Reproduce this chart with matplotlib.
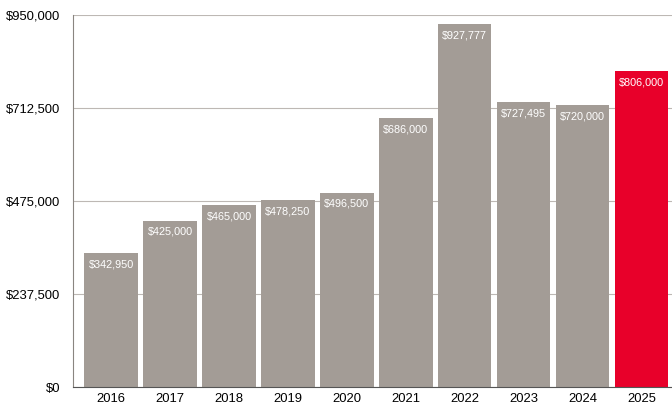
import matplotlib.pyplot as plt
from matplotlib.ticker import FuncFormatter

years = ['2016', '2017', '2018', '2019', '2020', '2021', '2022', '2023', '2024', '2025']
prices = [342950, 425000, 465000, 478250, 496500, 686000, 927777, 727495, 720000, 806000]
labels = ['$342,950', '$425,000', '$465,000', '$478,250', '$496,500',
          '$686,000', '$927,777', '$727,495', '$720,000', '$806,000']
yticks = [0, 237500, 475000, 712500, 950000]

plt.rcParams['font.family'] = ['Liberation Sans', 'DejaVu Sans']

fig = plt.figure(figsize=(6.72, 4.07), dpi=100)
ax = fig.add_axes([0.1086, 0.049, 0.8914, 0.914])

colors = ['#a39c96'] * (len(years) - 1) + ['#e8002a']
x = range(len(years))
bars = ax.bar(x, prices, width=0.91, color=colors, zorder=2)

for b, lab in zip(bars, labels):
    ax.annotate(lab, (b.get_x() + b.get_width() / 2, b.get_height()),
                xytext=(0, -4.5), textcoords='offset points',
                ha='center', va='top', color='white', fontsize=7.8, zorder=3)

ax.set_xlim(-0.65, 9.52)
ax.set_ylim(0, 950000)
ax.set_yticks(yticks)
ax.yaxis.set_major_formatter(FuncFormatter(lambda v, p: '${:,.0f}'.format(v)))
ax.set_xticks(list(x))
ax.set_xticklabels(years)
ax.tick_params(length=0, labelsize=9.4)
ax.tick_params(axis='y', pad=9)
ax.tick_params(axis='x', pad=4)
ax.yaxis.grid(True, color='#bdb8b4', linewidth=0.8, zorder=0)
ax.set_axisbelow(True)

for s in ['top', 'right']:
    ax.spines[s].set_visible(False)
ax.spines['left'].set_color('#8a8580')
ax.spines['left'].set_linewidth(0.8)
ax.spines['bottom'].set_color('#555555')
ax.spines['bottom'].set_linewidth(0.8)

fig.savefig('out.png', dpi=100)
